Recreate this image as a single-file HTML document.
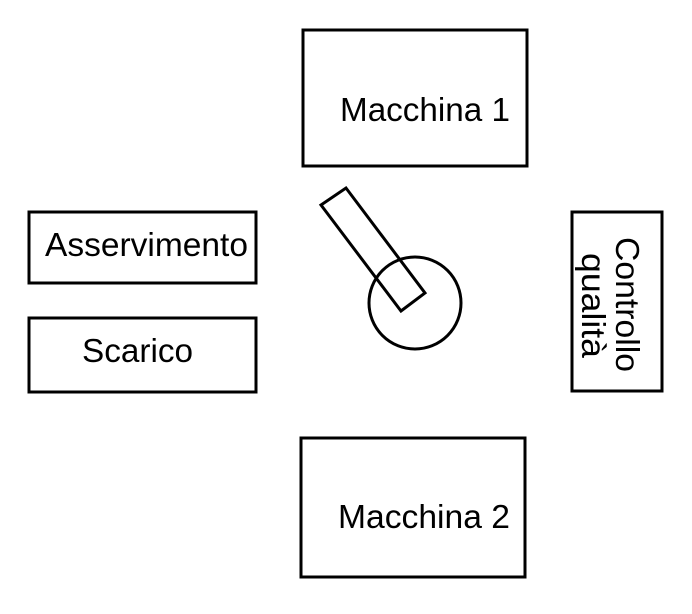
<!DOCTYPE html>
<html><head><style>html,body{margin:0;padding:0;background:#fff}</style></head>
<body>
<svg width="692" height="609" viewBox="0 0 692 609" xmlns="http://www.w3.org/2000/svg" font-family="Liberation Sans, Arial, sans-serif" fill="none" stroke="#000" stroke-width="3">
<rect x="303" y="30" width="224" height="136"/>
<rect x="29" y="212" width="227" height="71"/>
<rect x="29" y="318" width="227" height="74"/>
<rect x="572" y="212" width="90" height="179"/>
<rect x="301" y="438" width="224" height="139"/>
<circle cx="415" cy="303" r="46"/>
<polygon points="321,205 346,188 425,293 401,311"/>
<g fill="#000" stroke="none" font-size="33">
<text x="340" y="121" textLength="170" lengthAdjust="spacingAndGlyphs">Macchina 1</text>
<text x="338" y="528" textLength="172" lengthAdjust="spacingAndGlyphs">Macchina 2</text>
<text x="45" y="256" textLength="203" lengthAdjust="spacingAndGlyphs">Asservimento</text>
<text x="82" y="362" textLength="111" lengthAdjust="spacingAndGlyphs">Scarico</text>
<text transform="translate(616,237) rotate(90)" textLength="135" lengthAdjust="spacingAndGlyphs">Controllo</text>
<text transform="translate(582,253) rotate(90)" textLength="105" lengthAdjust="spacingAndGlyphs">qualità</text>
</g>
</svg>
</body></html>
